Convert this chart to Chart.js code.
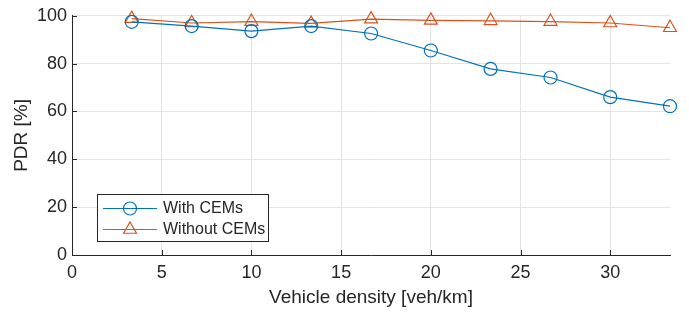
<!DOCTYPE html>
<html>
<head>
<meta charset="utf-8">
<script src="https://cdn.jsdelivr.net/npm/chart.js@4/dist/chart.umd.min.js"></script>
<style>
  html, body { margin: 0; padding: 0; background: #fff; }
  #wrap { width: 689px; height: 312px; }
</style>
</head>
<body>
<div id="wrap"><canvas id="chart" width="689" height="312"></canvas></div>
<script>
// vehicle density [veh/km]
const density = [3.33, 6.67, 10, 13.33, 16.67, 20, 23.33, 26.67, 30, 33.33];
// PDR [%]
const withCEMs = [97.5, 95.7, 93.6, 95.7, 92.6, 85.5, 77.8, 74.2, 66.0, 62.2];
const withoutCEMs = [98.8, 97.0, 97.6, 96.8, 98.6, 98.1, 97.9, 97.6, 97.0, 95.0];
const xTicks = [0, 5, 10, 15, 20, 25, 30];
const yTicks = [0, 20, 40, 60, 80, 100];

const seriesNames = ["With CEMs", "Without CEMs"];
const colors = ["#0072BD", "#D95319"];
const textColor = "#262626";
const fontFamily = "'Liberation Sans', Arial, Helvetica, sans-serif";

const toPoints = (ys) => ys.map((y, i) => ({ x: density[i], y: y }));

// small inward tick marks + legend box inside the plot, MATLAB style
const matlabDecor = {
  id: "matlabDecor",
  afterDraw(chart) {
    const ctx = chart.ctx;
    const xs = chart.scales.x, ys = chart.scales.y;
    const area = chart.chartArea;
    ctx.save();
    ctx.strokeStyle = textColor;
    ctx.lineWidth = 1;
    ctx.beginPath();
    xTicks.forEach((t) => {
      const px = Math.round(xs.getPixelForValue(t)) + 0.5;
      ctx.moveTo(px, area.bottom);
      ctx.lineTo(px, area.bottom - 5);
    });
    yTicks.forEach((t) => {
      const py = Math.round(ys.getPixelForValue(t)) + 0.5;
      ctx.moveTo(area.left, py);
      ctx.lineTo(area.left + 5, py);
    });
    ctx.stroke();

    // legend
    const bx = 97.5, by = 194.5, bw = 171, bh = 47;
    ctx.fillStyle = "#fff";
    ctx.fillRect(bx, by, bw, bh);
    ctx.strokeStyle = textColor;
    ctx.strokeRect(bx, by, bw, bh);
    ctx.font = "16px " + fontFamily;
    ctx.textBaseline = "middle";
    const rows = [208, 229];
    chart.data.datasets.forEach((ds, i) => {
      const yy = rows[i] + 0.5;
      ctx.lineWidth = 1.2;
      ctx.strokeStyle = ds.borderColor;
      ctx.beginPath();
      ctx.moveTo(103, yy);
      ctx.lineTo(157, yy);
      ctx.stroke();
      ctx.fillStyle = "rgba(0,0,0,0)";
      Chart.helpers.drawPoint(ctx, {
        pointStyle: ds.pointStyle,
        radius: ds.pointRadius,
        borderWidth: 1.2
      }, 130, yy);
      ctx.fillStyle = textColor;
      ctx.fillText(seriesNames[i], 163, yy);
    });
    ctx.restore();
  }
};

new Chart(document.getElementById("chart"), {
  type: "line",
  data: {
    datasets: [
      {
        label: seriesNames[0],
        data: toPoints(withCEMs),
        borderColor: colors[0],
        backgroundColor: "rgba(0,0,0,0)",
        borderWidth: 1.2,
        pointStyle: "circle",
        pointRadius: 6.5,
        pointBorderWidth: 1.2,
        pointBorderColor: colors[0],
        pointBackgroundColor: "rgba(0,0,0,0)",
        tension: 0,
        clip: false
      },
      {
        label: seriesNames[1],
        data: toPoints(withoutCEMs),
        borderColor: colors[1],
        backgroundColor: "rgba(0,0,0,0)",
        borderWidth: 1.2,
        pointStyle: "triangle",
        pointRadius: 7.5,
        pointBorderWidth: 1.2,
        pointBorderColor: colors[1],
        pointBackgroundColor: "rgba(0,0,0,0)",
        tension: 0,
        clip: false
      }
    ]
  },
  options: {
    responsive: false,
    animation: false,
    layout: { padding: { left: 0, right: 19, top: 13, bottom: 0 } },
    plugins: {
      legend: { display: false },
      tooltip: { enabled: false }
    },
    scales: {
      x: {
        type: "linear",
        min: 0,
        max: 33.33,
        afterBuildTicks: (scale) => { scale.ticks = xTicks.map((v) => ({ value: v })); },
        afterFit: (scale) => { scale.height = 57; },
        ticks: {
          color: textColor,
          font: { family: fontFamily, size: 18 },
          padding: 7,
          maxRotation: 0,
          autoSkip: false
        },
        grid: { color: "#e3e3e3", drawTicks: false },
        border: { display: true, color: textColor, width: 1 },
        title: {
          display: true,
          text: "Vehicle density [veh/km]",
          color: textColor,
          font: { family: fontFamily, size: 19 },
          padding: { top: 0, bottom: 3 }
        }
      },
      y: {
        type: "linear",
        min: 0,
        max: 100,
        afterBuildTicks: (scale) => { scale.ticks = yTicks.map((v) => ({ value: v })); },
        afterFit: (scale) => { scale.width = 72; },
        ticks: {
          color: textColor,
          font: { family: fontFamily, size: 18 },
          padding: 5
        },
        grid: { color: "#e3e3e3", drawTicks: false },
        border: { display: true, color: textColor, width: 1 },
        title: {
          display: true,
          text: "PDR [%]",
          color: textColor,
          font: { family: fontFamily, size: 19 },
          padding: { top: 10, bottom: 0 }
        }
      }
    }
  },
  plugins: [matlabDecor]
});
</script>
</body>
</html>
